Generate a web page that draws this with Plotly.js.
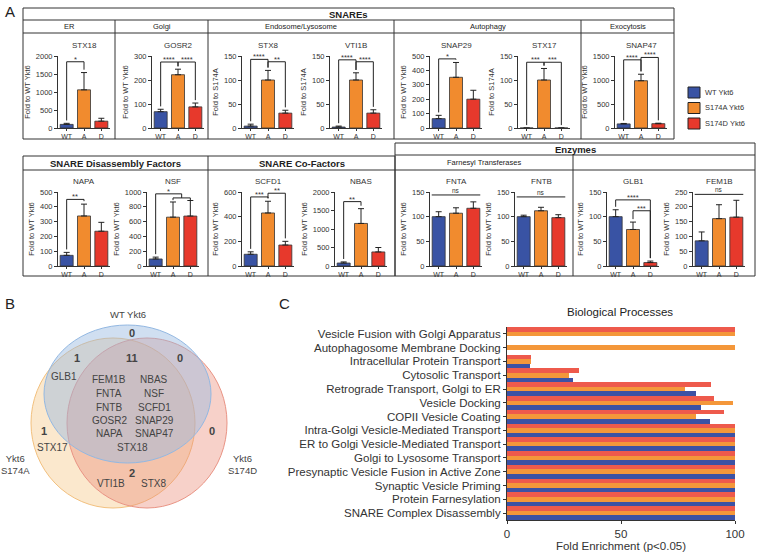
<!DOCTYPE html>
<html><head><meta charset="utf-8">
<script src="https://cdn.plot.ly/plotly-3.0.1.min.js"></script>
<style>html,body{margin:0;padding:0;background:#fff}#chart{width:757px;height:552px}</style>
</head><body><div id="chart"></div>
<script>
// ---------------- DATA ----------------
const genes = ['STX18','GOSR2','STX8','VTI1B','SNAP29','STX17','SNAP47','NAPA','NSF','SCFD1','NBAS','FNTA','FNTB','GLB1','FEM1B'];
const genotypeTicks = ['WT','A','D'];
const wtMean = [100, 68, 4, 2, 65, 0, 85, 72, 95, 95, 80, 100, 100, 100, 85];
const aMean  = [1060, 222, 100, 100, 352, 100, 985, 338, 660, 430, 1150, 107, 112, 74, 160];
const dMean  = [190, 88, 31, 31, 200, 0, 90, 235, 675, 170, 380, 117, 98, 7, 165];
const wtErr  = [30, 10, 4, 2, 23, 0, 10, 20, 25, 20, 30, 10, 3, 14, 30];
const aErr   = [480, 23, 20, 15, 103, 24, 135, 80, 205, 95, 400, 11, 7, 15, 47];
const dErr   = [80, 16, 6, 7, 62, 0, 10, 60, 210, 30, 120, 13, 6, 3, 57];
const yLabels = ['Fold to WT Ykt6','Fold to WT Ykt6','Fold to S174A','Fold to S174A','Fold to WT Ykt6','Fold to S174A','Fold to WT Ykt6',
  'Fold to WT Ykt6','Fold to WT Ykt6','Fold to WT Ykt6','Fold to WT Ykt6','Fold to WT Ykt6','Fold to WT Ykt6','Fold to WT Ykt6','Fold to WT Ykt6'];
const yMax  = [2000,300,150,150,500,150,1500,500,1000,600,2000,150,150,150,250];
const yStep = [500,100,50,50,100,50,500,100,200,200,500,50,50,50,50];
// significance brackets: gene index, from bar, to bar, level, label
const brGene  = [0,1,1,2,2,3,3,4,5,5,6,6,7,8,8,9,9,10,11,12,13,13,14];
const brFrom  = [0,0,1,0,1,0,1,0,0,1,0,1,0,0,1,0,1,0,-0.4,-0.4,0,1,-0.4];
const brTo    = [1,1,2,1,2,1,2,1,1,2,1,2,1,1.5,2,1,2,1,2.4,2.4,2,2,2.4];
const brLevel = [1840,275,275,143,138,142,138,480,137,137,1420,1470,450,975,920,560,590,1740,144,140,134,112,242];
const brLabel = ['*','****','****','****','**','****','****','*','***','***','****','****','**','*','','***','**','**','ns','ns','****','***','ns'];
const groups = ['WT Ykt6','S174A Ykt6','S174D Ykt6'];

const vennSets = ['WT Ykt6','Ykt6<br>S174A','Ykt6<br>S174D'];
const vennCounts = [0, 1, 11, 0, 1, 0, 2]; // WT only, WT∩A, all, WT∩D, A only, D only, A∩D
const vennGenes = [[], ['GLB1'], ['FEM1B','NBAS','FNTA','NSF','FNTB','SCFD1','GOSR2','SNAP29','NAPA','SNAP47','STX18'], [], ['STX17'], [], ['VTI1B','STX8']];

const processes = ['Vesicle Fusion with Golgi Apparatus','Autophagosome Membrane Docking','Intracellular Protein Transport','Cytosolic Transport',
  'Retrograde Transport, Golgi to ER','Vesicle Docking','COPII Vesicle Coating','Intra-Golgi Vesicle-Mediated Transport',
  'ER to Golgi Vesicle-Mediated Transport','Golgi to Lysosome Transport','Presynaptic Vesicle Fusion in Active Zone',
  'Synaptic Vesicle Priming','Protein Farnesylation','SNARE Complex Disassembly'];
const bpWT = [0, 0, 10, 29, 83, 85, 89, 100, 100, 100, 100, 100, 100, 100];
const bpA  = [100, 100, 10.5, 27, 78, 99, 83, 100, 100, 100, 100, 100, 100, 100];
const bpD  = [100, 0, 10.5, 31.5, 89.5, 91, 95, 100, 100, 100, 100, 100, 100, 100];

// ---------------- LAYOUT ----------------
const W = 757, H = 552;
const FONT = 'Liberation Sans, Arial, sans-serif';
const px = v => v / W, py = v => 1 - v / H;
const cBlue = '#3953A4', cOrange = '#F18B2E', cRed = '#E7392C';
const cBlueC = '#3C52A4', cOrangeC = '#F4973A', cRedC = '#EE5A4C';

const xDom = [[58,110],[152,204],[242,294],[330,382],[430,482],[518,570],[615,667],
              [58,110],[147,199],[242,294],[335,387],[430,482],[515,567],[607,659],[693,745]];
const topY = [56,128], botY = [192,266];

const data = [];
const layout = {
  width: W, height: H, margin: {l:0,r:0,t:0,b:0}, showlegend: false,
  paper_bgcolor: '#fff', plot_bgcolor: 'rgba(0,0,0,0)',
  font: {family: FONT, color: '#333'},
  bargap: 0, bargroupgap: 0, barmode: 'group',
  shapes: [], annotations: []
};
const shapes = layout.shapes, ann = layout.annotations;

genes.forEach((g, i) => {
  const n = i + 1;
  const xa = 'x' + n, ya = 'y' + n;
  const top = i < 7;
  const yd = top ? topY : botY;
  const means = [wtMean[i], aMean[i], dMean[i]];
  const errs = [wtErr[i], aErr[i], dErr[i]];
  data.push({
    type: 'bar', x: [0,1,2], y: means, width: 0.75, xaxis: xa, yaxis: ya,
    marker: {color: [cBlue, cOrange, cRed], line: {color: '#333', width: 0.8}},
    error_y: {type: 'data', symmetric: false, array: errs, arrayminus: [0,0,0], color: '#222', thickness: 1, width: 3},
    hoverinfo: 'none'
  });
  layout['xaxis' + n] = {
    domain: [px(xDom[i][0]), px(xDom[i][1])], anchor: ya, range: [-0.5, 2.5],
    tickvals: [0,1,2], ticktext: genotypeTicks, showline: true, linecolor: '#333', linewidth: 1,
    ticks: 'outside', ticklen: 2, tickcolor: '#333', tickfont: {size: 7, color: '#333'},
    showgrid: false, zeroline: false, fixedrange: true
  };
  layout['yaxis' + n] = {
    domain: [py(yd[1]), py(yd[0])], anchor: xa, range: [0, yMax[i]], tick0: 0, dtick: yStep[i],
    showline: true, linecolor: '#333', linewidth: 1, ticks: 'outside', ticklen: 3, tickcolor: '#333',
    tickfont: {size: 7.5, color: '#333'}, showgrid: false, zeroline: false,
    title: {text: yLabels[i], font: {size: 7.5, color: '#333'}, standoff: 4}, fixedrange: true
  };
  ann.push({xref: 'paper', yref: 'paper', x: px((xDom[i][0] + xDom[i][1]) / 2), y: py(top ? 45 : 181),
    text: g, showarrow: false, font: {size: 8, color: '#333'}, xanchor: 'center', yanchor: 'middle'});
});

// brackets
brGene.forEach((g, k) => {
  const n = g + 1;
  const xa = 'x' + n, ya = 'y' + n;
  const means = [wtMean[g], aMean[g], dMean[g]];
  const errs = [wtErr[g], aErr[g], dErr[g]];
  const gap = 0.04 * yMax[g];
  const y = brLevel[k], a = brFrom[k], b = brTo[k];
  const lab = brLabel[k];
  let path;
  if (lab === 'ns') {
    path = `M ${a},${y} L ${b},${y}`;
  } else {
    const legA = Number.isInteger(a) ? means[a] + errs[a] + gap : y;
    let legB;
    if (Number.isInteger(b)) legB = means[b] + errs[b] + gap; else legB = brLevel[k + 1];
    if (g === 8 && lab === '') { path = `M ${a},${y - 0.03*yMax[g]} L ${a},${y} L ${b},${y} L ${b},${y - 0.03*yMax[g]}`; }
    else path = `M ${a},${legA} L ${a},${y} L ${b},${y} L ${b},${legB}`;
  }
  shapes.push({type: 'path', xref: xa, yref: ya, path: path, line: {color: '#222', width: 1}});
  if (lab) ann.push({xref: xa, yref: ya, x: (a + b) / 2, y: y, text: lab, showarrow: false,
    font: {size: lab === 'ns' ? 6.5 : 7.5, color: '#333'}, yanchor: 'bottom', yshift: lab === 'ns' ? -1 : -4});
});

// legend for panel A
const legCols = [cBlue, cOrange, cRed];
groups.forEach((t, k) => {
  const y0 = 87 + k * 15.5;
  shapes.push({type: 'rect', xref: 'paper', yref: 'paper', x0: px(688), x1: px(700), y0: py(y0 + 11), y1: py(y0),
    fillcolor: legCols[k], line: {color: '#222', width: 1}});
  ann.push({xref: 'paper', yref: 'paper', x: px(703), y: py(y0 + 5.5), text: t, showarrow: false,
    xanchor: 'left', yanchor: 'middle', font: {size: 7.5, color: '#333'}});
});

// frame boxes
const line = (x0, y0, x1, y1) => shapes.push({type: 'line', xref: 'paper', yref: 'paper',
  x0: px(x0), y0: py(y0), x1: px(x1), y1: py(y1), line: {color: '#333', width: 1}});
const rect = (x0, y0, x1, y1) => shapes.push({type: 'rect', xref: 'paper', yref: 'paper',
  x0: px(x0), y0: py(y1), x1: px(x1), y1: py(y0), line: {color: '#333', width: 1}});
rect(23, 8, 674, 139); line(23, 20, 674, 20); line(23, 33, 674, 33);
[115, 208, 394, 581].forEach(x => line(x, 20, x, 139));
rect(23, 156, 395, 276); line(23, 170, 395, 170); line(208, 156, 208, 276);
rect(395, 143, 755, 276); line(395, 155, 755, 155); line(395, 170, 755, 170); line(573, 155, 573, 276);

const txt = (x, y, t, size, bold, anchor) => ann.push({xref: 'paper', yref: 'paper', x: px(x), y: py(y),
  text: bold ? '<b>' + t + '</b>' : t, showarrow: false, xanchor: anchor || 'center', yanchor: 'middle',
  font: {size: size, color: '#222', family: FONT}});
txt(348.5, 14, 'SNAREs', 9.5, true);
txt(69, 26.5, 'ER', 7.5); txt(161.5, 26.5, 'Golgi', 7.5); txt(301, 26.5, 'Endosome/Lysosome', 7.5);
txt(487.5, 26.5, 'Autophagy', 7.5); txt(627.5, 26.5, 'Exocytosis', 7.5);
txt(115.5, 163, 'SNARE Disassembly Factors', 9.5, true); txt(301.5, 163, 'SNARE Co-Factors', 9.5, true);
txt(575, 149.5, 'Enzymes', 9.5, true); txt(484, 162.5, 'Farnesyl Transferases', 7.5);
txt(3, 12, 'A', 15, false, 'left'); txt(3, 303, 'B', 15, false, 'left'); txt(277, 303, 'C', 15, false, 'left');

// ---------------- VENN ----------------
const circ = (x0, y0, x1, y1, fill, stroke) => shapes.push({type: 'circle', xref: 'paper', yref: 'paper',
  x0: px(x0), y0: py(y1), x1: px(x1), y1: py(y0), fillcolor: fill, line: {color: stroke, width: 1}, layer: 'below'});
circ(31, 338, 195, 508, 'rgba(246,205,145,0.45)', '#F2C07E');
circ(67, 338, 227, 508, 'rgba(236,140,120,0.40)', '#E99384');
circ(44, 325, 211, 463, 'rgba(150,185,225,0.45)', '#93B8E2');
const vTxt = (x, y, t, size, bold) => ann.push({xref: 'paper', yref: 'paper', x: px(x), y: py(y),
  text: bold ? '<b>' + t + '</b>' : t, showarrow: false, xanchor: 'center', yanchor: 'middle',
  font: {size: size, color: '#444', family: FONT}});
vTxt(128, 314, vennSets[0], 9.5); vTxt(15, 464, vennSets[1], 9.5); vTxt(242, 464, vennSets[2], 9.5);
const countPos = [[132,333],[77,358],[132,358],[180,358],[44,431],[212,431],[132,473]];
vennCounts.forEach((c, k) => vTxt(countPos[k][0], countPos[k][1], String(c), 11, true));
const genePos = [[], [[64,376]],
  [[109,379],[154,379],[109,393],[154,393],[109,407],[154,407],[109,420],[154,420],[109,433],[154,433],[132,447]],
  [], [[52,447]], [], [[111,483],[153,483]]];
vennGenes.forEach((list, k) => list.forEach((gname, j) => vTxt(genePos[k][j][0], genePos[k][j][1], gname, 10)));

// ---------------- PANEL C ----------------
const nC = 16;
[[bpD, cRedC, 'S174D Ykt6'], [bpA, cOrangeC, 'S174A Ykt6'], [bpWT, cBlueC, 'WT Ykt6']].forEach(([vals, col, nm]) => {
  data.push({type: 'bar', orientation: 'h', x: vals, y: processes, name: nm, xaxis: 'x' + nC, yaxis: 'y' + nC,
    marker: {color: col, line: {width: 0}}, hoverinfo: 'none'});
});
layout['xaxis' + nC] = {domain: [px(507), px(735)], anchor: 'y' + nC, range: [0, 100], tickvals: [0, 50, 100],
  showline: true, linecolor: '#333', linewidth: 1, ticks: 'outside', ticklen: 3, tickcolor: '#333',
  tickfont: {size: 11.5, color: '#333'}, showgrid: false, zeroline: false,
  title: {text: 'Fold Enrichment (p<0.05)', font: {size: 11.5, color: '#333'}, standoff: 5}, fixedrange: true};
layout['yaxis' + nC] = {domain: [py(520), py(327)], anchor: 'x' + nC, autorange: 'reversed', type: 'category',
  tickmode: 'array', tickvals: processes, ticktext: processes,
  showline: true, linecolor: '#333', linewidth: 1, ticks: 'outside', ticklen: 3, tickcolor: '#333',
  tickfont: {size: 11.5, color: '#333'}, showgrid: false, zeroline: false, fixedrange: true};
txt(620, 312, 'Biological Processes', 11.5);

Plotly.newPlot('chart', data, layout, {staticPlot: true, displayModeBar: false});
</script>
</body></html>
